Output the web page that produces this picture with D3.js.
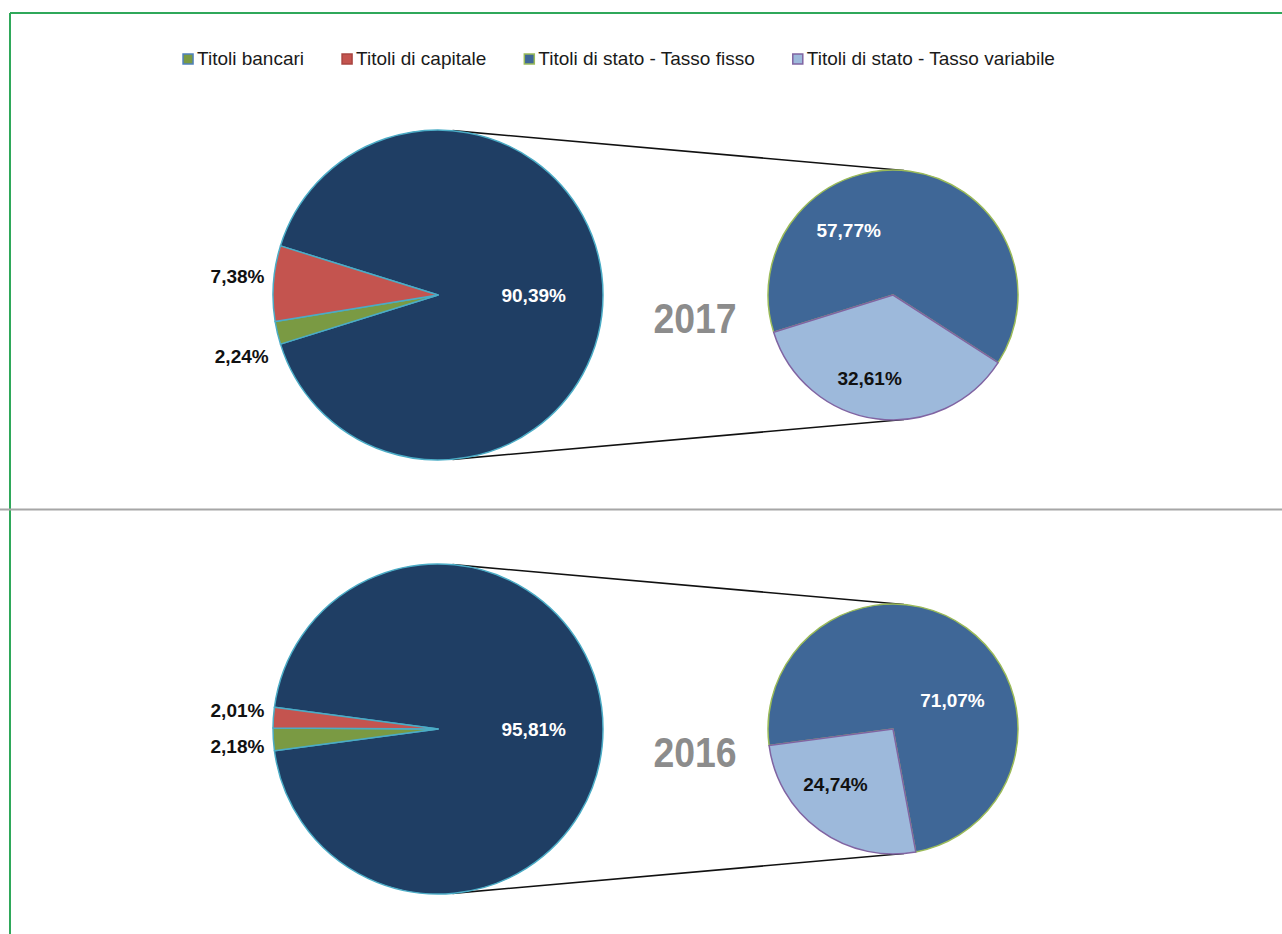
<!DOCTYPE html>
<html>
<head>
<meta charset="utf-8">
<script src="https://cdn.jsdelivr.net/npm/d3@7"></script>
<style>
  body { margin: 0; background: #fff; }
  svg { display: block; font-family: "Liberation Sans", Arial, sans-serif; }
  .lbl { font-weight: bold; font-size: 19px; }
  .legend text { font-size: 19px; fill: #1a1a1a; }
</style>
</head>
<body>
<div id="chart"></div>
<script>
/* DATA */
const years = ["2017", "2016"];
const categories = ["Titoli bancari", "Titoli di capitale", "Titoli di stato - Tasso fisso", "Titoli di stato - Tasso variabile"];
const bancari = [2.24, 2.18];
const capitale = [7.38, 2.01];
const statoFisso = [57.77, 71.07];
const statoVariabile = [32.61, 24.74];
const statoTotale = [90.39, 95.81]; // label printed on the grouped slice

/* LAYOUT */
const width = 1282, height = 934;
const panelY = [295, 729];            // centre line of each panel
const big = { cx: 438, r: 165 };
const small = { cx: 893, r: 125 };
const yearX = 695;
// Excel "best fit" puts the secondary labels off the mid angle a little
const secLabel = [
  [{ turn: -42, k: 0.63 }, { turn: 8, k: 0.69 }],
  [{ turn: 28, k: 0.53 }, { turn: 10, k: 0.64 }]
];

const fill = {
  stato: "#1f3e64",
  bancari: "#7a9a43",
  capitale: "#c4544f",
  fisso: "#3f6797",
  variabile: "#9db9db"
};
const edge = {
  stato: "#4bacc6",
  bancari: "#4bacc6",
  capitale: "#4bacc6",
  fisso: "#9bbb59",
  variabile: "#8064a2"
};

const it = d3.formatLocale({ decimal: ",", thousands: ".", grouping: [3], currency: ["€", ""] });
const pct = v => it.format(".2f")(v) + "%";
const rad = deg => deg * Math.PI / 180;

const svg = d3.select("#chart").append("svg")
  .attr("width", width)
  .attr("height", height);

// frame: green top/left border and grey separator between the two years
svg.append("line").attr("x1", 10).attr("x2", width).attr("y1", 13).attr("y2", 13)
  .attr("stroke", "#2fa85a").attr("stroke-width", 2);
svg.append("line").attr("x1", 10).attr("x2", 10).attr("y1", 13).attr("y2", height)
  .attr("stroke", "#2fa85a").attr("stroke-width", 2);
svg.append("line").attr("x1", 0).attr("x2", width).attr("y1", 509.5).attr("y2", 509.5)
  .attr("stroke", "#a6a6a6").attr("stroke-width", 2);

/* LEGEND */
const legendKeys = ["bancari", "capitale", "fisso", "variabile"];
const legendEdge = { bancari: "#4f81bd", capitale: "#a94541", fisso: "#9bbb59", variabile: "#8064a2" };
const legend = svg.append("g").attr("class", "legend");
let lx = 0;
categories.forEach((name, i) => {
  const key = legendKeys[i];
  const g = legend.append("g").attr("transform", `translate(${lx},0)`);
  g.append("rect").attr("x", 0).attr("y", -11).attr("width", 10).attr("height", 10)
    .attr("fill", fill[key])
    .attr("stroke", legendEdge[key]).attr("stroke-width", 1.5);
  const t = g.append("text").attr("x", 14).attr("y", 0).text(name);
  lx += 14 + t.node().getComputedTextLength() + 38;
});
const legendW = lx - 38;
legend.attr("transform", `translate(${619 - legendW / 2},65)`);

/* PANELS */
years.forEach((year, i) => {
  const cy = panelY[i];
  const g = svg.append("g");

  const mainData = [
    { key: "stato", value: statoFisso[i] + statoVariabile[i], label: statoTotale[i] },
    { key: "bancari", value: bancari[i], label: bancari[i] },
    { key: "capitale", value: capitale[i], label: capitale[i] }
  ];
  const total = d3.sum(mainData, d => d.value);
  const otherFrac = mainData[0].value / total;

  // grouped slice centred on 3 o'clock, the small ones on the left
  const start = Math.PI / 2 - otherFrac * Math.PI;
  const mainPie = d3.pie().sort(null).value(d => d.value)
    .startAngle(start).endAngle(start + 2 * Math.PI);
  const mainArc = d3.arc().innerRadius(0).outerRadius(big.r);

  // connector lines: outer tangents of the two circles
  const d = small.cx - big.cx;
  const phi = Math.acos((big.r - small.r) / d);
  [-1, 1].forEach(s => {
    const nx = Math.cos(phi), ny = s * Math.sin(phi);
    g.append("line")
      .attr("x1", big.cx + big.r * nx).attr("y1", cy + big.r * ny)
      .attr("x2", small.cx + small.r * nx).attr("y2", cy + small.r * ny)
      .attr("stroke", "#111").attr("stroke-width", 1.6);
  });

  const mg = g.append("g").attr("transform", `translate(${big.cx},${cy})`);
  const mainArcs = mainPie(mainData);
  mg.selectAll("path").data(mainArcs).join("path")
    .attr("d", mainArc)
    .attr("fill", d => fill[d.data.key])
    .attr("stroke", d => edge[d.data.key])
    .attr("stroke-width", 1.5)
    .attr("stroke-linejoin", "round");

  // label of the grouped slice, inside
  const a0 = mainArcs[0];
  const m0 = (a0.startAngle + a0.endAngle) / 2;
  mg.append("text").attr("class", "lbl")
    .attr("x", Math.sin(m0) * big.r * 0.58)
    .attr("y", -Math.cos(m0) * big.r * 0.58)
    .attr("dy", "0.35em").attr("text-anchor", "middle")
    .attr("fill", "#fff").text(pct(a0.data.label));

  // small slices: labels outside, on a slightly taller ellipse
  mg.selectAll("text.out").data(mainArcs.slice(1)).join("text")
    .attr("class", "lbl out")
    .attr("x", d => Math.sin((d.startAngle + d.endAngle) / 2) * (big.r + 9))
    .attr("y", d => -Math.cos((d.startAngle + d.endAngle) / 2) * (big.r + 14) * 1.5)
    .attr("dy", "0.35em").attr("text-anchor", "end")
    .attr("fill", "#111").text(d => pct(d.data.label));

  // secondary pie
  const secData = [
    { key: "fisso", value: statoFisso[i] },
    { key: "variabile", value: statoVariabile[i] }
  ];
  const halfGap = (1 - otherFrac) * Math.PI;
  const sStart = -(Math.PI / 2 + halfGap);
  const secPie = d3.pie().sort(null).value(d => d.value)
    .startAngle(sStart).endAngle(sStart + 2 * Math.PI);
  const secArc = d3.arc().innerRadius(0).outerRadius(small.r);
  const sg = g.append("g").attr("transform", `translate(${small.cx},${cy})`);
  const secArcs = secPie(secData);
  sg.selectAll("path").data(secArcs).join("path")
    .attr("d", secArc)
    .attr("fill", d => fill[d.data.key])
    .attr("stroke", d => edge[d.data.key])
    .attr("stroke-width", 1.5)
    .attr("stroke-linejoin", "round");
  sg.selectAll("text").data(secArcs).join("text")
    .attr("class", "lbl")
    .each(function (d, j) {
      const L = secLabel[i][j];
      const a = (d.startAngle + d.endAngle) / 2 + rad(L.turn);
      d3.select(this)
        .attr("x", Math.sin(a) * small.r * L.k)
        .attr("y", -Math.cos(a) * small.r * L.k);
    })
    .attr("dy", "0.35em").attr("text-anchor", "middle")
    .attr("fill", d => d.data.key === "fisso" ? "#fff" : "#111")
    .text(d => pct(d.data.value));

  // year, a little condensed like the original
  g.append("text")
    .attr("transform", `translate(${yearX},${cy + 23}) scale(0.87,1)`)
    .attr("dy", "0.35em").attr("text-anchor", "middle")
    .attr("font-size", 43).attr("font-weight", "bold")
    .attr("fill", "#8c8c8c").text(year);
});
</script>
</body>
</html>
